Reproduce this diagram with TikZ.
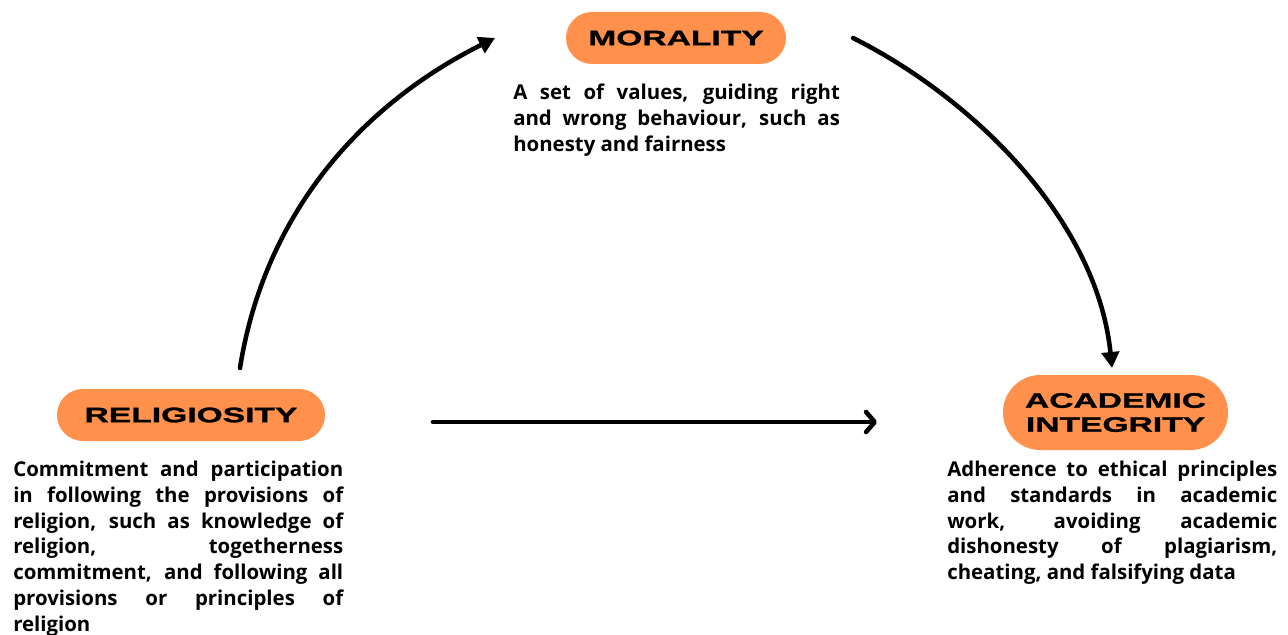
\documentclass[tikz,border=0pt]{standalone}
\usepackage{fontspec}
\setmainfont{Open Sans}
\newfontfamily\headfont{Liberation Sans}[FakeStretch=1.6,FakeBold=1.3]
\usetikzlibrary{arrows.meta}
\definecolor{pillorange}{HTML}{FF914D}
\begin{document}
\begin{tikzpicture}[x=0.75pt,y=-0.75pt,
  pill/.style={fill=pillorange, rounded corners=19.5pt, minimum height=39pt, inner sep=0pt,
    align=center, font=\headfont\bfseries\fontsize{15.75}{18}\selectfont},
  desc/.style={anchor=north west, inner sep=0pt, text width=247.5pt, align=justify,
    font=\bfseries\fontsize{15.3}{19.3}\selectfont},
  conn/.style={line width=3.4pt, line cap=round},
  tri/.style={conn, -{Triangle[length=12pt,width=13pt]}},
  barb/.style={conn, -{Straight Barb[length=6.5pt,width=15pt,round]}}]
\useasboundingbox (0,0) rectangle (1288,635);
% headings
\node[pill, minimum width=165pt] (mor) at (676,38) {MORALITY};
\node[pill, minimum width=201pt] (rel) at (191,415) {RELIGIOSITY};
\node[pill, minimum width=168.75pt, minimum height=56.25pt, rounded corners=28pt] (aca) at (1115.5,412.5) {ACADEMIC\\INTEGRITY};
% descriptions
\node[desc, text width=245pt] (mord) at (513,84) {A set of values, guiding right\linebreak and wrong behaviour, such as\linebreak honesty and fairness};
\node[desc] (reld) at (13,461) {Commitment and participation\linebreak in following the provisions of\linebreak religion, such as knowledge of\linebreak religion, togetherness\linebreak commitment, and following all\linebreak provisions or principles of\linebreak religion};
\node[desc] (acad) at (947,461) {Adherence to ethical principles\linebreak and standards in academic\linebreak work, avoiding academic\linebreak dishonesty of plagiarism,\linebreak cheating, and falsifying data};
% connector end points
\coordinate (relout) at (240,368);
\coordinate (morin) at (495,38);
\coordinate (morout) at (853,38);
\coordinate (acain) at (1112,368);
\coordinate (relright) at (433,422);
\coordinate (acaleft) at (877,422);
% connectors
\draw[tri] (relout) .. controls (263,222) and (353,109) .. (morin);
\draw[tri] (morout) .. controls (973,98) and (1097,220) .. (acain);
\draw[barb] (relright) -- (acaleft);
\end{tikzpicture}
\end{document}
